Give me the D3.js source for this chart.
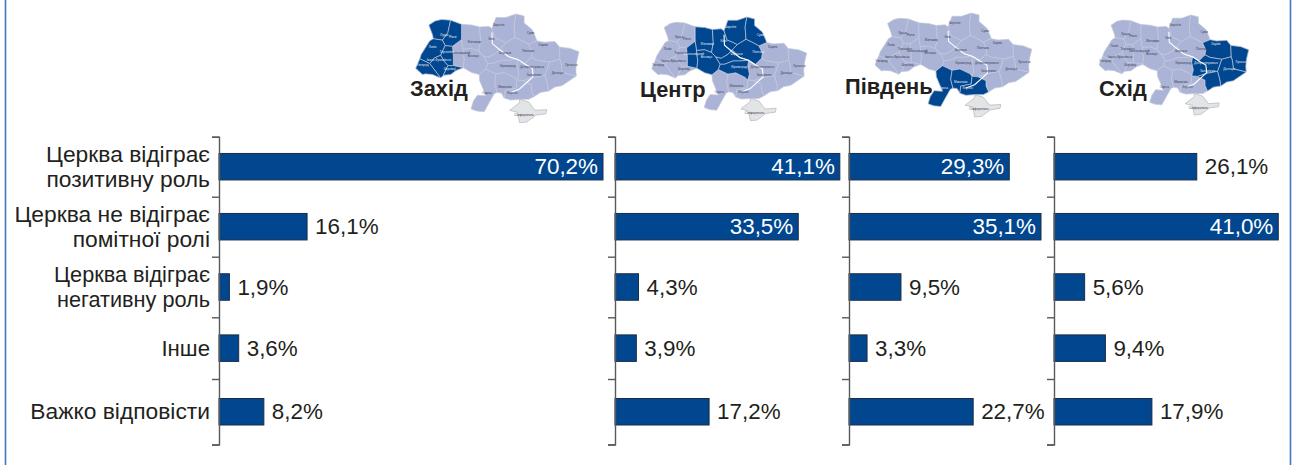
<!DOCTYPE html>
<html><head><meta charset="utf-8">
<script src="https://cdnjs.cloudflare.com/ajax/libs/d3/7.8.5/d3.min.js"></script>
<style>html,body{margin:0;padding:0;background:#fff}svg{display:block}text{font-family:"Liberation Sans",Arial,sans-serif}</style>
</head><body><svg id="c" width="1295" height="465"></svg>
<script>
const categories=[["Церква відіграє","позитивну роль"],["Церква не відіграє","помітної ролі"],["Церква відіграє","негативну роль"],["Інше"],["Важко відповісти"]];
const regionNames=["Захід","Центр","Південь","Схід"];
const westValues=[70.2,16.1,1.9,3.6,8.2];
const centreValues=[41.1,33.5,4.3,3.9,17.2];
const southValues=[29.3,35.1,9.5,3.3,22.7];
const eastValues=[26.1,41.0,5.6,9.4,17.9];
const insideFrom=29;
const westOblasts=["Волинь","Рівне","Львів","Тернопіль","Франківськ","Закарпаття","Чернівці"];
const centreOblasts=["Житомир","Хмельницький","Вінниця","Київ","Чернігів","Суми","Полтава","Черкаси","Кіровоград"];
const southOblasts=["Одеса","Миколаїв","Херсон"];
const eastOblasts=["Харків","Луганськ","Донецьк","Дніпро","Запоріжжя"];
const oblastRings={
"Волинь":[[23.6,51.55],[24.3,51.85],[25,51.95],[26,51.9],[25.7,51],[25.1,50.45],[24.1,50.55],[24,50.85]],
"Рівне":[[26,51.9],[27.2,51.6],[27.2,50.5],[26.2,50],[25.4,50.05],[25.1,50.45],[25.7,51]],
"Львів":[[24.1,50.55],[25.1,50.45],[25.4,50.05],[24.9,49.35],[24.2,49.15],[23.7,48.75],[22.6,49.1],[22.75,49.4],[23.7,50.4]],
"Закарпаття":[[22.15,48.4],[22.6,49.1],[23.7,48.75],[24.9,47.7],[24,47.95],[23.2,48],[22.9,47.95]],
"Франківськ":[[23.7,48.75],[24.2,49.15],[24.9,49.35],[25.3,48.9],[25.7,48.6],[25.2,47.9],[24.9,47.7]],
"Тернопіль":[[25.4,50.05],[26.2,50],[26.3,49.3],[26.3,48.6],[25.7,48.6],[25.3,48.9],[24.9,49.35]],
"Чернівці":[[25.7,48.6],[26.3,48.6],[27.4,48.45],[26.6,48.25],[26,47.95],[25.2,47.9]],
"Хмельницький":[[26.2,50],[27.2,50.5],[27.35,49.8],[27.5,49],[27.4,48.45],[26.3,48.6],[26.3,49.3]],
"Вінниця":[[27.35,49.8],[28.3,49.85],[29.1,49.65],[29.6,49.3],[30.1,48.75],[29.9,48.35],[29.15,47.95],[28.3,48.1],[27.4,48.45],[27.5,49]],
"Житомир":[[27.2,51.6],[28.3,51.55],[29.2,51.4],[29.3,50.4],[29.1,49.65],[28.3,49.85],[27.35,49.8],[27.2,50.5]],
"Київ":[[29.2,51.4],[30.2,51.45],[30.55,51.3],[30.9,50.6],[31.5,50.45],[32.1,50.25],[31.5,49.85],[31,49.5],[30.2,49.2],[29.6,49.3],[29.1,49.65],[29.3,50.4]],
"Чернігів":[[30.55,51.3],[31,52.1],[32.1,52.1],[33.2,52.35],[33,51.6],[33.1,50.65],[32.1,50.25],[31.5,50.45],[30.9,50.6]],
"Суми":[[33.2,52.35],[34.1,52.2],[34.1,51.7],[35,51.2],[35.4,50.6],[35.5,50.4],[34.6,50.15],[33.9,50.4],[33.1,50.65],[33,51.6]],
"Полтава":[[32.1,50.25],[33.1,50.65],[33.9,50.4],[34.6,50.15],[35,49.6],[34.9,49.2],[34.2,48.75],[33.4,49.05],[32.3,49.3],[31.5,49.85]],
"Харків":[[35.5,50.4],[36.3,50.3],[37.5,50.35],[38,49.95],[38.05,49.05],[36.9,48.85],[35.5,49],[34.9,49.2],[35,49.6],[34.6,50.15]],
"Луганськ":[[38,49.95],[39.2,49.85],[40.15,49.6],[39.9,48.9],[39.8,48.3],[39.85,47.85],[38.3,48.1],[38.2,48.7],[38.05,49.05]],
"Донецьк":[[38.05,49.05],[38.2,48.7],[38.3,48.1],[39.85,47.85],[38.3,47.15],[37.5,47.05],[36.8,46.75],[36.65,47.3],[36.4,47.9],[36.9,48.85]],
"Дніпро":[[36.9,48.85],[36.4,47.9],[35.2,47.75],[34,47.5],[33.3,47.55],[33.5,48],[33.3,48.6],[33.4,49.05],[34.2,48.75],[34.9,49.2],[35.5,49]],
"Запоріжжя":[[36.4,47.9],[36.65,47.3],[36.8,46.75],[35.9,46.65],[35.2,46.35],[34.9,46.8],[34.9,47.2],[34,47.5],[35.2,47.75]],
"Херсон":[[34,47.5],[34.9,47.2],[34.9,46.8],[35.2,46.35],[34.6,46.15],[33.6,46.15],[32.6,46.1],[31.9,46.25],[32,46.8],[33.2,46.95],[33.3,47.55]],
"Миколаїв":[[33.3,47.55],[33.2,46.95],[32,46.8],[31.9,46.25],[31.6,46.6],[31.1,46.65],[30.85,47.3],[31,48],[31.9,48.1],[33,47.75]],
"Одеса":[[31.1,46.65],[30.8,46.55],[30.2,45.85],[29.7,45.25],[28.9,45.3],[28.25,45.45],[28.5,46],[28.95,46.45],[29.9,46.4],[29.55,46.95],[29.2,47.5],[29.15,47.95],[29.9,48.35],[31,48],[30.85,47.3]],
"Кіровоград":[[29.9,48.35],[31,48],[31.9,48.1],[33,47.75],[33.3,47.55],[33.5,48],[33.3,48.6],[33.4,49.05],[32.3,49],[31.6,49],[30.6,48.75],[30.1,48.75]],
"Черкаси":[[30.1,48.75],[30.6,48.75],[31.6,49],[32.3,49],[33.4,49.05],[32.3,49.3],[31.5,49.85],[31,49.5],[30.2,49.2],[29.6,49.3]]
};
const crimeaRing=[[33.6,46.15],[34.6,45.95],[35.3,45.35],[36.6,45.4],[36.5,45.1],[35.4,45],[34.4,44.5],[33.6,44.45],[33.4,45.2],[32.5,45.35],[33.6,45.9]];
const dniproRiver=[[30.55,51],[30.6,50.2],[31.5,49.7],[32.4,49.25],[33.4,49.05],[34.2,48.7],[35,48.4],[35.1,47.8],[34.6,47.5],[33.6,46.9],[32.6,46.65]];
const cities=[["Чернігів",31.3,51.5,"Чернігів"],["Суми",34.8,50.9,"Суми"],["Київ",30.5,50.45,"Київ"],["Житомир",28.6,50.25,"Житомир"],["Харків",36.2,50,"Харків"],["Полтава",34.55,49.6,"Полтава"],["Луганськ",39.3,48.57,"Луганськ"],["Донецьк",37.8,48,"Донецьк"],["Дніпропетровськ",35,48.45,"Дніпро"],["Запоріжжя",35.2,47.85,"Запоріжжя"],["Кіровоград",32.3,48.5,"Кіровоград"],["Черкаси",32,49.45,"Черкаси"],["Вінниця",28.5,49.2,"Вінниця"],["Хмельницький",27,49.42,"Хмельницький"],["Тернопіль",25.6,49.55,"Тернопіль"],["Львів",24,49.85,"Львів"],["Луцьк",25.3,50.75,"Волинь"],["Рівне",26.25,50.62,"Рівне"],["Ужгород",22.9,48.6,"Закарпаття"],["Івано-Франківськ",24.7,48.92,"Франківськ"],["Чернівці",25.9,48.3,"Чернівці"],["Одеса",30,46.55,"Одеса"],["Миколаїв",32,47,"Миколаїв"],["Херсон",32.8,46.55,"Херсон"],["Сімферополь",34.1,44.95,null]];

const svg=d3.select("#c");
const W=1295,H=465,ink="#231f20",barBlue="#00478f",landLight="#abb4d6";
const tickYs=[136.7,196.7,256.7,317.3,379,444.5];
const y=d3.scaleLinear().domain(d3.range(6)).range(tickYs);
const barH=26.5;
const x=d3.scaleLinear().domain([0,100]).range([0,547]);
const labelSizes=[22.8,22.8,21.7,22.2,22.8];
const panels=[
 {name:regionNames[0],values:westValues,hi:westOblasts,ax:219,map:[415.7,579,14,122.7],lx:410,ly:96},
 {name:regionNames[1],values:centreValues,hi:centreOblasts,ax:615,map:[651.7,806.7,17,120.7],lx:640,ly:97},
 {name:regionNames[2],values:southValues,hi:southOblasts,ax:849,map:[875,1031.7,13,117],lx:845,ly:94},
 {name:regionNames[3],values:eastValues,hi:eastOblasts,ax:1054,map:[1099,1248.7,15,115],lx:1099,ly:96}
];
[5.5,1290.5].forEach(fx=>svg.append("line").attr("x1",fx).attr("x2",fx).attr("y1",0).attr("y2",H).attr("stroke","#3f79b8").attr("stroke-width",1.6));
const cat=svg.append("g").selectAll("text").data(categories).join("text")
 .attr("text-anchor","end").attr("font-size",(d,i)=>labelSizes[i]).attr("fill",ink)
 .attr("transform",(d,i)=>`translate(210,${y(i+.5)})`);
cat.selectAll("tspan").data(d=>d).join("tspan").attr("x",0)
 .attr("y",(l,j,n)=>(j-(n.length-1)/2)*25+7.5).text(l=>l);

panels.forEach(p=>{
 const lon=d3.scaleLinear().domain([22.15,40.15]).range([p.map[0],p.map[1]]);
 const lat=d3.scaleLinear().domain([52.35,44.45]).range([p.map[2],p.map[3]]);
 const proj=d3.geoTransform({point(a,b){this.stream.point(lon(a),lat(b));}});
 const path=d3.geoPath(proj);
 const poly=r=>({type:"Polygon",coordinates:[[...r,r[0]]]});
 const m=svg.append("g");
 m.append("path").datum(poly(crimeaRing)).attr("d",path).attr("fill","#e3e4e6").attr("stroke","#b5b6b8").attr("stroke-width",.7);
 const names=Object.keys(oblastRings);
 m.selectAll("path.o").data(names).join("path").attr("class","o")
  .attr("d",n=>path(poly(oblastRings[n])))
  .attr("fill",landLight).attr("stroke","#c3c7da").attr("stroke-width",.7).attr("stroke-linejoin","round");
 m.selectAll("path.h").data(p.hi).join("path").attr("class","h")
  .attr("d",n=>path(poly(oblastRings[n]))).attr("fill",barBlue).attr("stroke","#cdd4e6").attr("stroke-width",.6).attr("stroke-linejoin","round");
 m.append("path").datum({type:"LineString",coordinates:dniproRiver}).attr("d",path).attr("fill","none").attr("stroke","#fff").attr("stroke-width",1.1);
 const c=m.selectAll("g.c").data(cities).join("g").attr("class","c").attr("transform",d=>`translate(${lon(d[1])},${lat(d[2])})`);
 c.append("text").text(d=>d[0]).attr("text-anchor","middle").attr("font-size",3.1)
  .attr("fill",d=>p.hi.includes(d[3])?"#e8ecf5":"#3a3e50");
 svg.append("text").attr("x",p.lx).attr("y",p.ly).attr("font-size",21.8).attr("font-weight",700).attr("fill",ink).text(p.name);
 const g=svg.append("g").attr("transform",`translate(${p.ax},0)`);
 g.selectAll("rect").data(p.values).join("rect")
  .attr("x",0).attr("y",(d,i)=>y(i+.5)-barH/2).attr("width",d=>x(d)).attr("height",barH)
  .attr("fill",barBlue).attr("stroke","#1c2c45").attr("stroke-width",1);
 const ax=g.append("g").call(d3.axisLeft(y).tickValues(d3.range(6)).tickSize(7).tickFormat(""));
 ax.selectAll("path,line").attr("stroke","#58595b").attr("stroke-width",1.4);
 g.selectAll("text.v").data(p.values).join("text").attr("class","v")
  .attr("x",d=>d>=insideFrom?x(d)-5:x(d)+8)
  .attr("y",(d,i)=>y(i+.5)+7.5)
  .attr("text-anchor",d=>d>=insideFrom?"end":"start")
  .attr("font-size",22.4)
  .attr("fill",d=>d>=insideFrom?"#fff":ink)
  .text(d=>d.toFixed(1).replace(".",",")+"%");
});
</script></body></html>
